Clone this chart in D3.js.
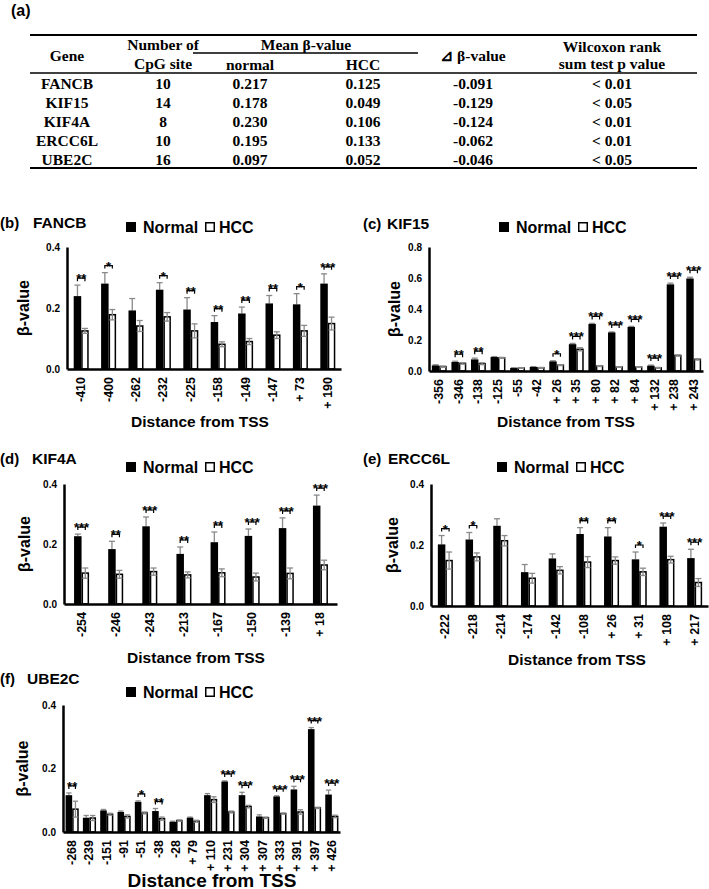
<!DOCTYPE html>
<html><head><meta charset="utf-8">
<script src="https://cdn.jsdelivr.net/npm/d3@7"></script>
<style>body{margin:0;background:#fff}svg{display:block}</style>
</head><body>
<svg id="c" width="709" height="889"></svg>
<script>
// ---------- Table (a) ----------
const tableGenes = ["FANCB","KIF15","KIF4A","ERCC6L","UBE2C"];
const tableCpG = ["10","14","8","10","16"];
const tableNormal = ["0.217","0.178","0.230","0.195","0.097"];
const tableHCC = ["0.125","0.049","0.106","0.133","0.052"];
const tableDelta = ["-0.091","-0.129","-0.124","-0.062","-0.046"];
const tableP = ["< 0.01","< 0.05","< 0.01","< 0.01","< 0.05"];

// ---------- (b) FANCB ----------
const fancbSites = ["-410","-400","-262","-232","-225","-158","-149","-147","+ 73","+ 190"];
const fancbNormal = [0.239,0.280,0.192,0.260,0.195,0.154,0.182,0.215,0.212,0.280];
const fancbNormalErr = [0.036,0.036,0.039,0.023,0.039,0.021,0.021,0.026,0.035,0.032];
const fancbHCC = [0.125,0.178,0.141,0.171,0.125,0.081,0.090,0.111,0.125,0.149];
const fancbHCCErr = [0.008,0.017,0.018,0.014,0.023,0.008,0.010,0.011,0.018,0.021];
const fancbSig = ["**","*","","*","**","**","**","**","*","***"];

// ---------- (c) KIF15 ----------
const kif15Sites = ["-356","-346","-138","-125","-55","-42","+ 26","+ 35","+ 80","+ 82","+ 84","+ 132","+ 238","+ 243"];
const kif15Normal = [0.036,0.058,0.075,0.090,0.019,0.026,0.062,0.173,0.303,0.249,0.284,0.034,0.559,0.597];
const kif15NormalErr = [0.004,0.005,0.008,0.003,0.002,0.002,0.004,0.005,0.004,0.003,0.004,0.004,0.008,0.008];
const kif15HCC = [0.028,0.049,0.047,0.085,0.019,0.021,0.038,0.140,0.032,0.026,0.026,0.021,0.100,0.075];
const kif15HCCErr = [0.004,0.005,0.006,0.003,0.002,0.002,0.003,0.010,0.003,0.002,0.002,0.002,0.004,0.004];
const kif15Sig = ["","**","**","","","","*","***","***","***","***","***","***","***"];

// ---------- (d) KIF4A ----------
const kif4aSites = ["-254","-246","-243","-213","-167","-150","-139","+ 18"];
const kif4aNormal = [0.226,0.183,0.259,0.167,0.206,0.227,0.253,0.328];
const kif4aNormalErr = [0.007,0.026,0.031,0.023,0.034,0.023,0.034,0.035];
const kif4aHCC = [0.103,0.099,0.108,0.097,0.104,0.090,0.102,0.130];
const kif4aHCCErr = [0.017,0.013,0.012,0.010,0.013,0.013,0.018,0.016];
const kif4aSig = ["***","**","***","**","**","***","***","***"];

// ---------- (e) ERCC6L ----------
const ercc6lSites = ["-222","-218","-214","-174","-142","-108","+ 26","+ 31","+ 108","+ 217"];
const ercc6lNormal = [0.202,0.218,0.263,0.111,0.156,0.236,0.228,0.153,0.260,0.157];
const ercc6lNormalErr = [0.029,0.023,0.023,0.025,0.015,0.021,0.029,0.024,0.012,0.029];
const ercc6lHCC = [0.149,0.161,0.214,0.091,0.117,0.144,0.149,0.112,0.152,0.077];
const ercc6lHCCErr = [0.028,0.013,0.017,0.016,0.012,0.018,0.012,0.012,0.011,0.013];
const ercc6lSig = ["*","*","","","","**","**","*","***","***"];

// ---------- (f) UBE2C ----------
const ube2cSites = ["-268","-239","-151","-91","-51","-38","-28","+ 79","+ 110","+ 231","+ 304","+ 307","+ 333","+ 391","+ 397","+ 426"];
const ube2cNormal = [0.116,0.045,0.068,0.063,0.095,0.066,0.032,0.045,0.116,0.159,0.116,0.049,0.112,0.134,0.324,0.118];
const ube2cNormalErr = [0.007,0.007,0.003,0.003,0.003,0.008,0.002,0.002,0.005,0.002,0.009,0.005,0.002,0.010,0.005,0.014];
const ube2cHCC = [0.072,0.044,0.056,0.049,0.060,0.042,0.036,0.034,0.102,0.063,0.080,0.045,0.058,0.063,0.076,0.049];
const ube2cHCCErr = [0.025,0.008,0.003,0.005,0.003,0.005,0.002,0.003,0.009,0.003,0.004,0.002,0.002,0.007,0.002,0.004];
const ube2cSig = ["**","","","","*","**","","","","***","***","","***","***","***","***"];

const seriesNames = ["Normal","HCC"];
const yTicks04 = [0,0.2,0.4];
const yTicks08 = [0,0.2,0.4,0.6,0.8];

const svg = d3.select("#c");
const SANS = "'Liberation Sans', Arial, sans-serif";
const SERIF = "'Liberation Serif', 'Times New Roman', serif";

// ---------- table ----------
(function drawTable(){
  const g = svg.append("g").attr("font-family", SERIF).attr("font-weight","bold").attr("font-size",15.5).attr("fill","#000");
  svg.append("text").attr("x",11).attr("y",16).attr("font-family",SANS).attr("font-weight","bold").attr("font-size",16).text("(a)");
  const line = (x1,x2,y,w)=>g.append("line").attr("x1",x1).attr("x2",x2).attr("y1",y).attr("y2",y).attr("stroke","#000").attr("stroke-width",w);
  line(30,697,35,2.2); line(193,418,53,1.4); line(30,697,73,1.6); line(30,697,168,2.2);
  const cols = [67,163,250,363,473,612];
  const t = (x,y,s)=>g.append("text").attr("x",x).attr("y",y).attr("text-anchor","middle").attr("dominant-baseline","central").text(s);
  t(cols[0],55,"Gene"); t(cols[1],44,"Number of"); t(cols[1],63,"CpG site");
  t(306,44,"Mean β-value"); t(cols[2],64,"normal"); t(cols[3],64,"HCC");
  t(cols[4],55,"⊿ β-value"); t(cols[5],46,"Wilcoxon rank"); t(cols[5],63,"sum test p value");
  const rowY = d3.scalePoint().domain(tableGenes).range([83,159]);
  tableGenes.forEach((gname,i)=>{
    const y = rowY(gname);
    [gname,tableCpG[i],tableNormal[i],tableHCC[i],tableDelta[i],tableP[i]].forEach((v,j)=>t(cols[j],y,v));
  });
})();

// ---------- bar panels ----------
function panel(p){
  const g = svg.append("g").attr("font-family",SANS).attr("font-weight","bold");
  const x = d3.scaleBand().domain(p.sites).range([p.left,p.right]);
  const y = d3.scaleLinear().domain([0,p.max]).range([p.base,p.top]);
  const bw = Math.min(7.5, x.bandwidth()*0.38);
  const cx = s => x(s) + x.bandwidth()/2 + 0.5;

  // titles
  g.append("text").attr("x",p.labelX).attr("y",p.titleY).attr("dominant-baseline","central").attr("font-size",15).text(p.tag);
  g.append("text").attr("x",p.nameX).attr("y",p.titleY).attr("dominant-baseline","central").attr("font-size",15.5).text(p.gene);

  // legend
  const lg = g.append("g").attr("transform",`translate(${p.legendX},${p.legendY})`);
  lg.append("rect").attr("x",0).attr("y",-5).attr("width",10).attr("height",10).attr("fill","#000");
  lg.append("text").attr("x",17).attr("y",0).attr("dominant-baseline","central").attr("font-size",16).text(seriesNames[0]);
  lg.append("rect").attr("x",79.75).attr("y",-4.25).attr("width",8.5).attr("height",8.5).attr("fill","#fff").attr("stroke","#000").attr("stroke-width",1.5);
  lg.append("text").attr("x",93).attr("y",0).attr("dominant-baseline","central").attr("font-size",16).text(seriesNames[1]);

  const errColor = "#8a8a8a";
  const capW = bw*0.8;
  // normal error bars (upper part visible above black bar)
  p.sites.forEach((s,i)=>{
    const c = cx(s);
    const xn = c - bw/2;
    g.append("line").attr("x1",xn).attr("x2",xn).attr("y1",y(p.normal[i])).attr("y2",y(p.normal[i]+p.normalErr[i])).attr("stroke",errColor).attr("stroke-width",1.3);
    g.append("line").attr("x1",xn-capW/2).attr("x2",xn+capW/2).attr("y1",y(p.normal[i]+p.normalErr[i])).attr("y2",y(p.normal[i]+p.normalErr[i])).attr("stroke",errColor).attr("stroke-width",1.3);
  });
  // bars
  p.sites.forEach((s,i)=>{
    const c = cx(s);
    g.append("rect").attr("x",c-bw).attr("y",y(p.normal[i])).attr("width",bw).attr("height",y(0)-y(p.normal[i])).attr("fill","#000");
    g.append("rect").attr("x",c+0.75).attr("y",y(p.hcc[i])).attr("width",bw-1.5).attr("height",Math.max(0,y(0)-y(p.hcc[i]))).attr("fill","#fff").attr("stroke","#000").attr("stroke-width",1.5);
  });
  // HCC error bars (over)
  p.sites.forEach((s,i)=>{
    const c = cx(s), xh = c + bw/2;
    const lo = y(Math.max(0,p.hcc[i]-p.hccErr[i])), hi = y(p.hcc[i]+p.hccErr[i]);
    g.append("line").attr("x1",xh).attr("x2",xh).attr("y1",lo).attr("y2",hi).attr("stroke",errColor).attr("stroke-width",1.3);
    [lo,hi].forEach(yy=>g.append("line").attr("x1",xh-capW/2).attr("x2",xh+capW/2).attr("y1",yy).attr("y2",yy).attr("stroke",errColor).attr("stroke-width",1.3));
  });
  // significance brackets
  p.sites.forEach((s,i)=>{
    if(!p.sig[i]) return;
    const c = cx(s);
    const top = Math.min(y(p.normal[i]+p.normalErr[i]), y(p.hcc[i]+p.hccErr[i]));
    const by = top - 7;
    const x1 = c - bw/2, x2 = c + bw/2;
    g.append("path").attr("d",`M${x1},${by+3}V${by}H${x2}V${by+3}`).attr("fill","none").attr("stroke","#000").attr("stroke-width",1.2);
    g.append("text").attr("x",c).attr("y",by+5).attr("text-anchor","middle").attr("font-size",13).text(p.sig[i]);
  });

  // axes
  const ya = g.append("g").attr("transform",`translate(${p.left},0)`)
    .call(d3.axisLeft(y).tickValues(p.ticks).tickFormat(d3.format(".1f")).tickSize(0).tickSizeOuter(0).tickPadding(7));
  ya.attr("font-family",SANS).attr("font-weight","bold").attr("font-size",10);
  ya.select(".domain").attr("stroke","#000").attr("stroke-width",2.5);
  const xa = g.append("g").attr("transform",`translate(0,${p.base})`)
    .call(d3.axisBottom(x).tickSize(0).tickSizeOuter(0));
  xa.attr("font-family",SANS).attr("font-weight","bold").attr("font-size",12.5);
  xa.select(".domain").attr("stroke","#000").attr("stroke-width",2.5);
  xa.selectAll("text")
    .attr("transform","rotate(-90)").attr("text-anchor","end").attr("x",-8).attr("y",0).attr("dy","0.36em");

  // axis titles
  g.append("text").attr("transform",`translate(${p.ylabX},${(p.base+p.top)/2}) rotate(-90)`).attr("text-anchor","middle").attr("dominant-baseline","central").attr("font-size",16).text("β-value");
  g.append("text").attr("x",p.xTitleX).attr("y",p.xTitleY).attr("text-anchor","middle").attr("dominant-baseline","central").attr("font-size",p.xTitleSize||15.5).text("Distance from TSS");
}

panel({tag:"(b)",gene:"FANCB",sites:fancbSites,normal:fancbNormal,normalErr:fancbNormalErr,hcc:fancbHCC,hccErr:fancbHCCErr,sig:fancbSig,
  left:67,right:341,base:369,top:247,max:0.4,ticks:yTicks04,titleY:222,labelX:0,nameX:33,legendX:126,legendY:227,ylabX:23,xTitleX:200,xTitleY:421});
panel({tag:"(c)",gene:"KIF15",sites:kif15Sites,normal:kif15Normal,normalErr:kif15NormalErr,hcc:kif15HCC,hccErr:kif15HCCErr,sig:kif15Sig,
  left:429,right:703,base:371,top:247,max:0.8,ticks:yTicks08,titleY:223,labelX:363,nameX:387,legendX:499,legendY:227,ylabX:394,xTitleX:566,xTitleY:421});
panel({tag:"(d)",gene:"KIF4A",sites:kif4aSites,normal:kif4aNormal,normalErr:kif4aNormalErr,hcc:kif4aHCC,hccErr:kif4aHCCErr,sig:kif4aSig,
  left:64,right:337,base:604,top:484,max:0.4,ticks:yTicks04,titleY:458,labelX:0,nameX:32,legendX:126,legendY:467,ylabX:24,xTitleX:196,xTitleY:657});
panel({tag:"(e)",gene:"ERCC6L",sites:ercc6lSites,normal:ercc6lNormal,normalErr:ercc6lNormalErr,hcc:ercc6lHCC,hccErr:ercc6lHCCErr,sig:ercc6lSig,
  left:431,right:708,base:606,top:484,max:0.4,ticks:yTicks04,titleY:458,labelX:363,nameX:388,legendX:497,legendY:467,ylabX:392,xTitleX:577,xTitleY:659});
panel({tag:"(f)",gene:"UBE2C",sites:ube2cSites,normal:ube2cNormal,normalErr:ube2cNormalErr,hcc:ube2cHCC,hccErr:ube2cHCCErr,sig:ube2cSig,
  left:63,right:340,base:832,top:705,max:0.4,ticks:yTicks04,titleY:678,labelX:0,nameX:27,legendX:126,legendY:692,ylabX:22,xTitleX:212,xTitleY:880,xTitleSize:19});
</script>
</body></html>
